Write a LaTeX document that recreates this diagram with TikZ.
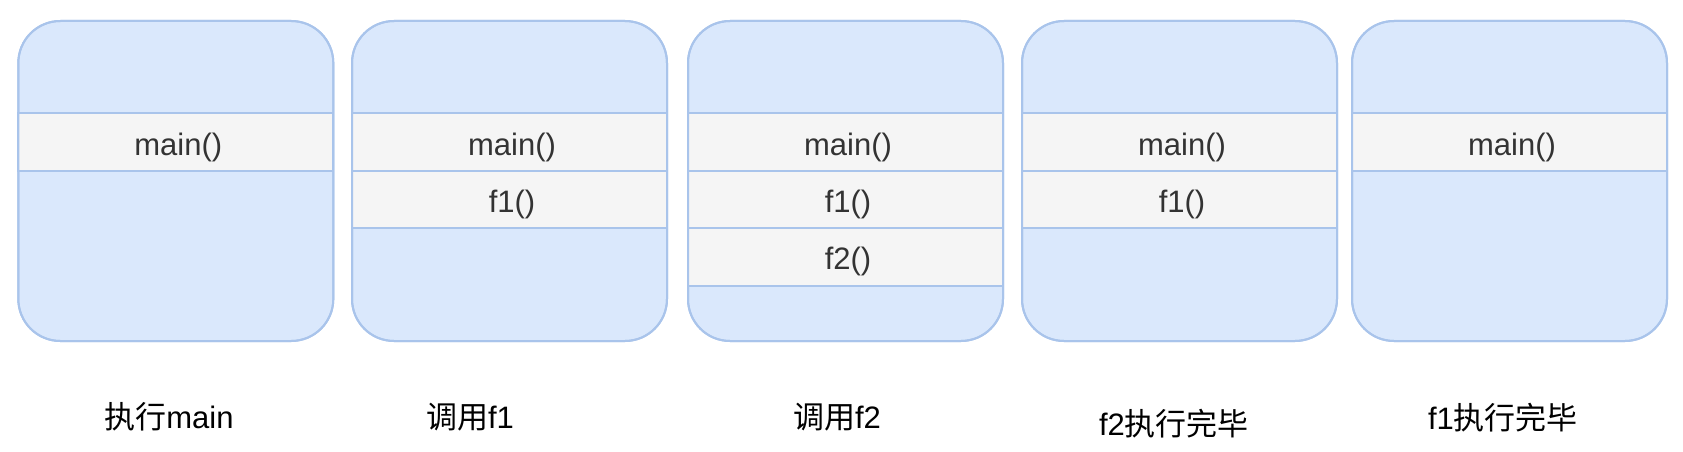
\documentclass[tikz,border=0pt]{standalone}
\usepackage{fontspec}
\setmainfont{Liberation Sans}
\newfontfamily\cjk{Noto Sans CJK SC}
\definecolor{boxfill}{HTML}{DAE8FC}
\definecolor{boxline}{HTML}{A9C4EB}
\definecolor{rowfill}{HTML}{F5F5F5}
\definecolor{rowtext}{HTML}{333333}
\tikzset{
  stackbox/.style={rectangle, rounded corners=42pt, fill=boxfill, draw=boxline,
    line width=2pt, minimum width=315pt, minimum height=320pt, inner sep=0pt},
  stackframe/.style={rectangle, rounded corners=42pt, draw=boxline,
    line width=2pt, minimum width=315pt, minimum height=320pt, inner sep=0pt},
  framerow/.style={rectangle, fill=rowfill, draw=boxline, line width=2pt,
    minimum width=315pt, minimum height=57.5pt, inner sep=0pt},
  rowlabel/.style={anchor=base, inner sep=0pt, text=rowtext,
    font=\fontsize{31pt}{36pt}\selectfont},
  caption/.style={anchor=base, inner sep=0pt, text=black,
    font=\fontsize{31pt}{36pt}\selectfont},
}
\begin{document}
\begin{tikzpicture}[x=1pt,y=-1pt]
\useasboundingbox (0,0) rectangle (1683,452);
% boxes: left x, width 315, top 21, bottom 341
\foreach \i/\lx/\n in {1/18.3/1, 2/352/2, 3/688/3, 4/1022/2, 5/1352/1}{
  \node[stackbox] (b\i) at (\lx+157.5,181) {};
  \foreach \r in {1,...,\n}{
    \node[framerow] (b\i r\r) at (\lx+157.5, 113.3+57.5*\r-28.75) {};
  }
  \node[stackframe] (b\i f) at (\lx+157.5,181) {};
}
% row texts
\foreach \i/\lx/\n in {1/18.3/1, 2/352/2, 3/688/3, 4/1022/2, 5/1352/1}{
  \node[rowlabel] (t\i m) at (\lx+160, 155.3) {main()};
}
\node[rowlabel] (t2a) at (352+160, 212) {f1()};
\node[rowlabel] (t3a) at (688+160, 212) {f1()};
\node[rowlabel] (t3b) at (688+160, 269) {f2()};
\node[rowlabel] (t4a) at (1022+160, 212) {f1()};
% captions
\node[caption] (l1) at (169,428) {{\cjk 执行}main};
\node[caption] (l2) at (470,428) {{\cjk 调用}f1};
\node[caption] (l3) at (837,428) {{\cjk 调用}f2};
\node[caption] (l4) at (1174,435) {f2{\cjk 执行完毕}};
\node[caption] (l5) at (1503,429) {f1{\cjk 执行完毕}};
\end{tikzpicture}
\end{document}
